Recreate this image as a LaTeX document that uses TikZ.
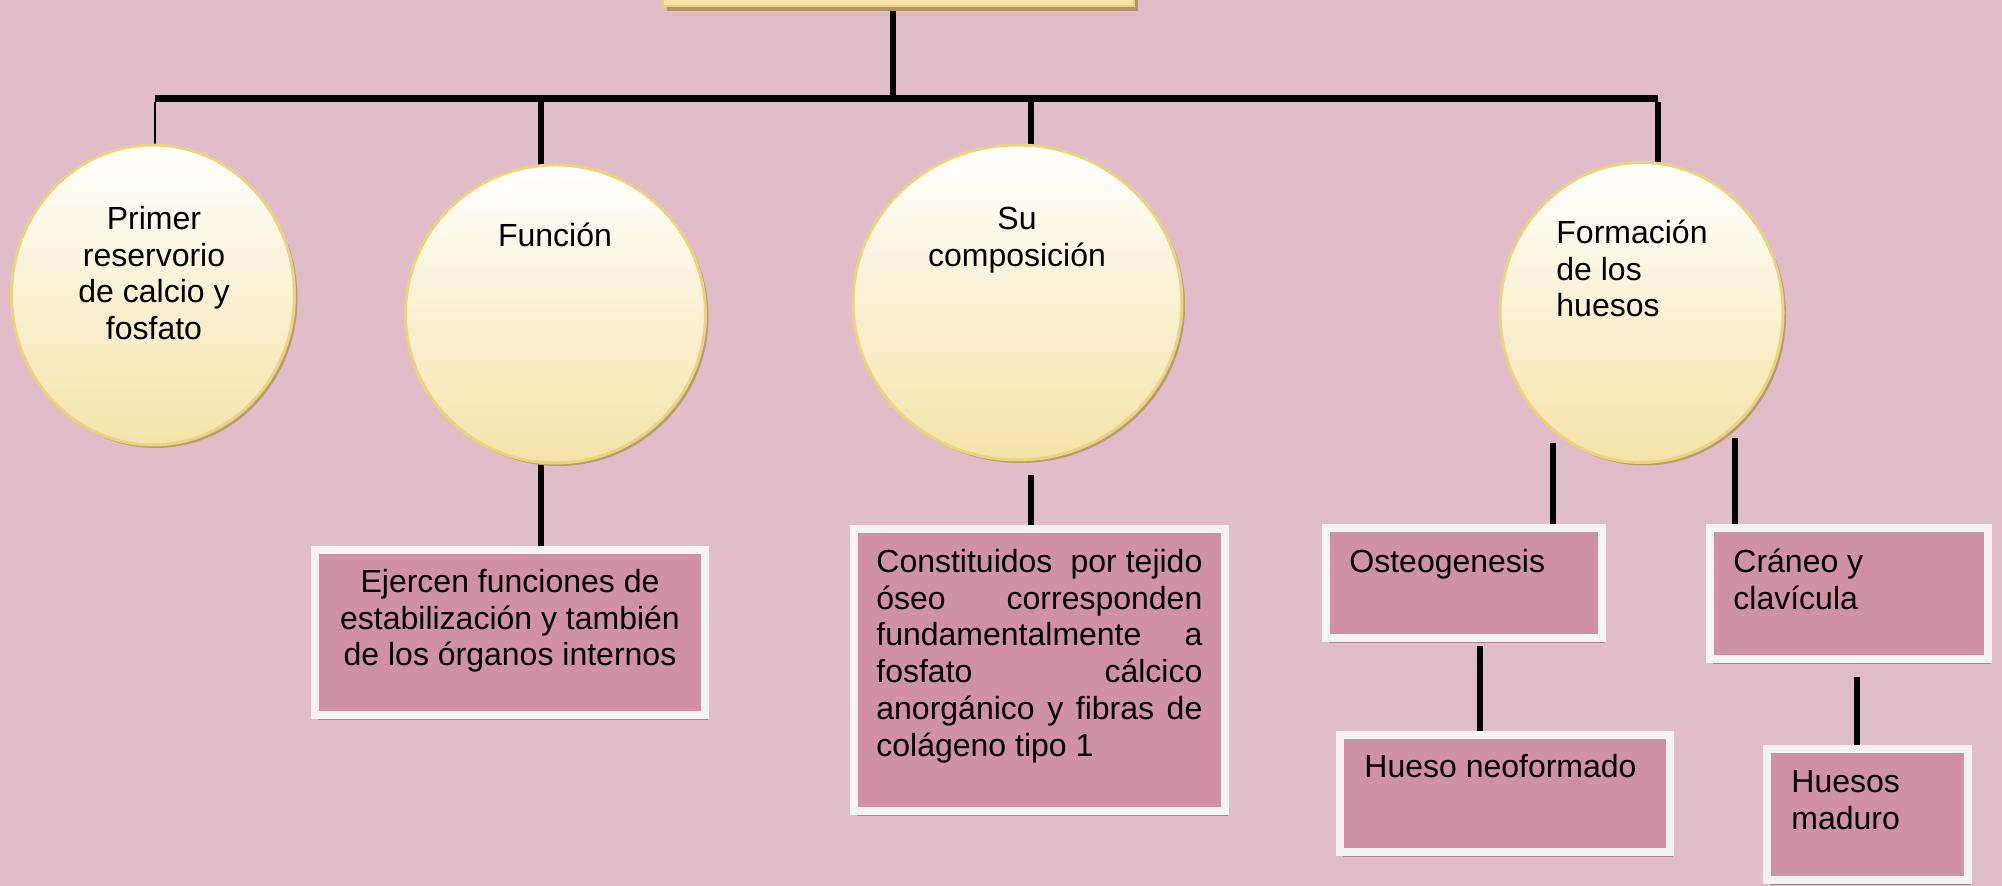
\documentclass[tikz,border=0pt]{standalone}
\usepackage{fontspec}
\setmainfont{Liberation Sans}
\usetikzlibrary{shapes.geometric,shadows}
\pgfdeclarelayer{background}
\pgfsetlayers{background,main}
\definecolor{bg}{RGB}{225,188,201}
\definecolor{boxpink}{RGB}{208,145,167}
\definecolor{boxedge}{RGB}{243,243,243}
\definecolor{boxshadow}{RGB}{178,128,146}
\definecolor{ellbot}{RGB}{245,227,168}
\definecolor{elledge}{RGB}{236,211,125}
\definecolor{ellshadow}{RGB}{185,155,120}
\definecolor{topfill}{RGB}{245,228,165}
\definecolor{topedge}{RGB}{236,210,110}
\definecolor{topshadow}{RGB}{180,148,112}
\begin{document}
\begin{tikzpicture}[x=0.5pt,y=-0.5pt,
  bubble/.style={ellipse, inner sep=0pt, top color=white, bottom color=ellbot,
    draw=elledge, line width=1.5pt,
    drop shadow={shadow xshift=1.5pt, shadow yshift=-1.5pt, fill=ellshadow, opacity=1}},
  card/.style={rectangle, inner sep=0pt, fill=boxpink, draw=boxedge, line width=4pt,
    drop shadow={shadow xshift=1.5pt, shadow yshift=-2.5pt, fill=boxshadow, opacity=1}},
  lbl/.style={inner sep=0pt, font=\fontsize{16}{18.4}\selectfont, text=black},
  link/.style={line width=3.4pt, draw=black},
  thinlink/.style={line width=1.25pt, draw=black}]

\begin{pgfonlayer}{background}
\fill[bg] (0,0) rectangle (2002,886);
\end{pgfonlayer}
\useasboundingbox (0,0) rectangle (2002,886);

% top box (cut by the frame)
\node[rectangle, inner sep=0pt, fill=topfill, draw=topedge, line width=1pt,
  minimum width=235.5pt, minimum height=20pt,
  drop shadow={shadow xshift=2pt, shadow yshift=-2.5pt, fill=topshadow, opacity=1}]
  (top) at (898.5,-14) {};

% ellipses
\node[bubble, minimum width=141.5pt, minimum height=150pt] (primer) at (153,295) {};
\node[bubble, minimum width=150pt, minimum height=149pt] (funcion) at (555.5,314) {};
\node[bubble, minimum width=164.5pt, minimum height=157.5pt] (compos) at (1017.5,302.5) {};
\node[bubble, minimum width=141.5pt, minimum height=150pt] (formac) at (1641.5,312.5) {};

\node[lbl, align=center, anchor=north] (tprimer) at (154,203.2)
  {\strut Primer\\reservorio\\de calcio y\\fosfato};
\node[lbl, align=center, anchor=north] (tfuncion) at (555,220.2) {\strut Función};
\node[lbl, align=center, anchor=north] (tcompos) at (1017,203.2) {\strut Su\\composición};
\node[lbl, align=left, anchor=north west] (tformac) at (1556,217.2)
  {\strut Formación\\de los\\huesos};

% cards
\node[card, minimum width=195pt, minimum height=82.5pt] (ejercen) at (510,632.5) {};
\node[card, minimum width=185.5pt, minimum height=141pt] (constit) at (1039.5,670) {};
\node[card, minimum width=138pt, minimum height=55pt] (osteo) at (1464,583) {};
\node[card, minimum width=165pt, minimum height=58.5pt] (neo) at (1505,793.5) {};
\node[card, minimum width=139pt, minimum height=65.5pt] (craneo) at (1849,593.5) {};
\node[card, minimum width=100.5pt, minimum height=65.5pt] (maduro) at (1867.5,814.5) {};

\node[lbl, align=center, anchor=north] (tejercen) at (510,566.2)
  {\strut Ejercen funciones de\\estabilización y también\\de los órganos internos};
\node[lbl, align=left, anchor=north west] (tconstit) at (876,546.2)
  {\strut\makebox[163pt][s]{Constituidos\ \ por tejido}\\
   \makebox[163pt][s]{óseo corresponden}\\
   \makebox[163pt][s]{fundamentalmente a}\\
   \makebox[163pt][s]{fosfato cálcico}\\
   \makebox[163pt][s]{anorgánico y fibras de}\\
   colágeno tipo 1};
\node[lbl, anchor=north west] (tosteo) at (1349,546.2) {\strut Osteogenesis};
\node[lbl, anchor=north west] (tneo) at (1364,751.2) {\strut Hueso neoformado};
\node[lbl, align=left, anchor=north west] (tcraneo) at (1733,546.2) {\strut Cráneo y\\clavícula};
\node[lbl, align=left, anchor=north west] (tmaduro) at (1791,766.2) {\strut Huesos\\maduro};

% connectors
\coordinate (hub) at (893,98.5);
\coordinate (bL) at (155,98.5);
\coordinate (bR) at (1658,98.5);
\coordinate (d1) at (155,102);
\coordinate (d2) at (541,102);
\coordinate (d3) at (1031,102);
\coordinate (d4) at (1658,102);
\coordinate (c3) at (1031,475);
\coordinate (f1) at (1553,443);
\coordinate (f2) at (1735,438);
\coordinate (o1) at (1480,646);
\coordinate (k1) at (1857,677);

\begin{pgfonlayer}{background}
\draw[link] (top.south -| hub) -- (hub);
\draw[link] (bL) -- (bR);
\draw[thinlink] (d1) -- ([yshift=-2pt]d1 |- primer.north);
\draw[link] (d2) -- ([yshift=-3pt]d2 |- funcion.north);
\draw[link] (d3) -- ([yshift=-3pt]d3 |- compos.north);
\draw[link] (d4) -- ([yshift=-3pt]d4 |- formac.north);
\draw[link] ([yshift=3pt]d2 |- funcion.south) -- (d2 |- ejercen.north);
\draw[link] (c3) -- (c3 |- constit.north);
\draw[link] (f1) -- (f1 |- osteo.north);
\draw[link] (f2) -- (f2 |- craneo.north);
\draw[link] (o1) -- (o1 |- neo.north);
\draw[link] (k1) -- (k1 |- maduro.north);
\end{pgfonlayer}
\end{tikzpicture}
\end{document}
